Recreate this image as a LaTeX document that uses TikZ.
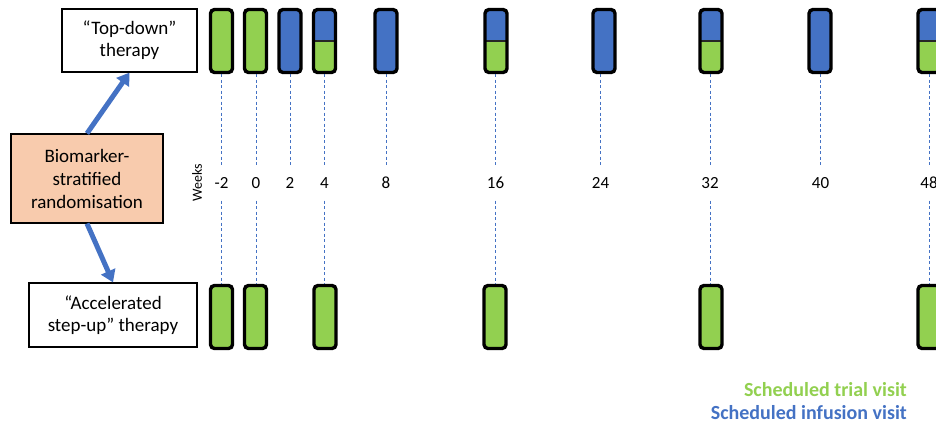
\documentclass[tikz,border=0pt]{standalone}
\usepackage{fontspec}
\setmainfont{Carlito}
\usetikzlibrary{arrows.meta}
\definecolor{vgreen}{HTML}{92D050}
\definecolor{vblue}{HTML}{4472C4}
\definecolor{peach}{HTML}{F8CBAD}
\begin{document}
\begin{tikzpicture}[x=1pt,y=-1pt,
  visit/.style={draw=black,line width=3.4pt,rounded corners=4pt,minimum width=22pt,minimum height=63pt,inner sep=0pt},
  trial/.style={visit,fill=vgreen},
  infusion/.style={visit,fill=vblue},
  both/.style={visit,fill=vgreen,path picture={
      \fill[vblue] (path picture bounding box.north west) rectangle (path picture bounding box.east);
      \draw[line width=2.2pt,black!85] (path picture bounding box.west) -- (path picture bounding box.east);}},
  lbl/.style={draw=black,line width=1.2pt,align=center,font=\fontsize{19}{22}\selectfont,inner sep=0pt},
  wk/.style={font=\fontsize{17}{18}\selectfont,minimum height=35pt,inner sep=0pt},
  guide/.style={vblue,line width=0.6pt,dash pattern=on 3pt off 2.5pt},
  bigarrow/.style={vblue,line width=5pt,-{Triangle[width=15pt,length=12pt]}}
]
\useasboundingbox (0,0) rectangle (936,426);

% left boxes
\node[lbl,minimum width=135pt,minimum height=63pt] (top) at (129.5,40.5) {“Top-down”\\therapy};
\node[lbl,fill=peach,minimum width=152pt,minimum height=89pt,font=\fontsize{19}{23}\selectfont] (bio) at (87,178.5) {Biomarker-\\stratified\\randomisation};
\node[lbl,minimum width=168pt,minimum height=64pt] (acc) at (113,315) {“Accelerated\\step-up” therapy};
\draw[bigarrow] (bio.north) -- (top.south);
\draw[bigarrow] (bio.south) -- (acc.north);

\node[rotate=90,font=\fontsize{14}{16}\selectfont] (weeks) at (197,183) {Weeks};

% week labels
\node[wk] (lm2) at (221.5,183) {-2};
\node[wk] (l0) at (256,183) {0};
\node[wk] (l2) at (290,183) {2};
\node[wk] (l4) at (324.5,183) {4};
\node[wk] (l8) at (386,183) {8};
\node[wk] (l16) at (495.5,183) {16};
\node[wk] (l24) at (600.5,183) {24};
\node[wk] (l32) at (710,183) {32};
\node[wk] (l40) at (820.5,183) {40};
\node[wk] (l48) at (929,183) {48};

% top row
\node[trial] (tm2) at (221.5,41) {};
\node[trial] (t0) at (255.5,41) {};
\node[infusion] (t2) at (290,41) {};
\node[both] (t4) at (324.5,41) {};
\node[infusion] (t8) at (386,41) {};
\node[both] (t16) at (496,41) {};
\node[infusion] (t24) at (604,41) {};
\node[both] (t32) at (711,41) {};
\node[infusion] (t40) at (820,41) {};
\node[both] (t48) at (929,41) {};

% bottom row
\node[trial] (bm2) at (221.5,317) {};
\node[trial] (b0) at (255.5,317) {};
\node[trial] (b4) at (325,317) {};
\node[trial] (b16) at (495,317) {};
\node[trial] (b32) at (711,317) {};
\node[trial] (b48) at (929,317) {};

% guides
\foreach \t/\l in {tm2/lm2,t0/l0,t2/l2,t4/l4,t8/l8,t16/l16,t24/l24,t32/l32,t40/l40,t48/l48}
  \draw[guide] (\t.south -| \l.north) -- (\l.north);
\foreach \l/\b in {lm2/bm2,l0/b0,l4/b4,l16/b16,l32/b32,l48/b48}
  \draw[guide] (\l.south) -- (\l.south |- \b.north);

% legend
\node[anchor=east,font=\fontsize{20}{22}\selectfont\bfseries,text=vgreen,inner sep=0pt] (leg1) at (907,390) {Scheduled trial visit};
\node[anchor=east,font=\fontsize{20}{22}\selectfont\bfseries,text=vblue,inner sep=0pt] (leg2) at (907,413) {Scheduled infusion visit};
\end{tikzpicture}
\end{document}
